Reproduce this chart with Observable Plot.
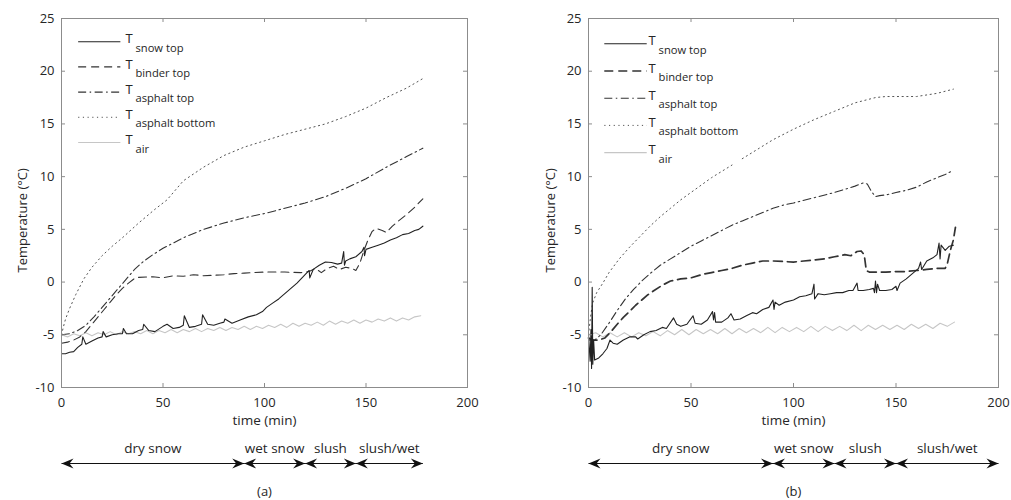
<!DOCTYPE html>
<html><head><meta charset="utf-8">
<script src="https://cdn.jsdelivr.net/npm/d3@7"></script>
<script src="https://cdn.jsdelivr.net/npm/@observablehq/plot@0.6"></script>
<style>
body{margin:0;background:#fff;}
#wrap{position:relative;width:1011px;height:500px;overflow:hidden;}
#wrap > div{position:absolute;top:0;}
</style></head>
<body><div id="wrap"><div id="pa" style="left:0"></div><div id="pb" style="left:505px"></div></div>
<script>
// ---------- data ----------
const xTicks = [0, 50, 100, 150, 200];
const yTicks = [-10, -5, 0, 5, 10, 15, 20, 25];
const legendNames = ["snow top", "binder top", "asphalt top", "asphalt bottom", "air"];
const phaseNames = ["dry snow", "wet snow", "slush", "slush/wet"];
const phasesA = [0, 90, 120, 145, 178];
const phasesB = [0, 90, 120, 150, 200];

// Panel (a)
const snowA_t = [0,2,4,6,8,10,10.5,12,15,18,20,20.5,22,25,28,30,30.5,32,35,38,40,40.5,43,46,50,52,55,58,60,60.5,63,66,69,69.5,72,75,78,80,80.5,84,88,92,96,99,101,104,107,110,113,116,118,120,122,122.3,124,127,130,133,136,138,139,139.4,140,142,145,148,149,149.3,150,153,156,159,162,165,168,171,174,176,178];
const snowA_v = [-6.8,-6.8,-6.65,-6.6,-6.2,-5.9,-5.2,-5.9,-5.6,-5.3,-5.2,-4.7,-5.2,-5.0,-4.9,-4.9,-4.4,-4.9,-4.9,-4.6,-4.5,-4.0,-4.6,-4.7,-4.2,-4.0,-4.4,-4.3,-4.1,-3.2,-4.3,-4.2,-4.0,-3.1,-4.0,-4.1,-3.9,-3.8,-3.5,-3.9,-3.6,-3.3,-3.1,-2.8,-2.4,-2.0,-1.6,-1.1,-0.6,-0.1,0.3,0.7,1.1,0.4,1.2,1.6,1.9,1.85,1.7,1.8,2.9,1.6,2.0,2.2,2.4,2.9,3.3,2.5,3.1,3.3,3.5,3.7,4.0,4.2,4.5,4.6,4.9,5.0,5.3];
const binderA_t = [0,3,6,9,12,15,18,21,24,27,30,33,36,38,45,50,55,60,65,70,75,80,85,90,100,110,118,122,125,128,131,134,137,140,143,145,147,149,151,153,155,158,160,163,166,170,174,178];
const binderA_v = [-5.8,-5.7,-5.5,-5.2,-4.7,-4.0,-3.3,-2.6,-1.9,-1.2,-0.6,-0.1,0.35,0.45,0.5,0.4,0.6,0.55,0.7,0.6,0.65,0.7,0.8,0.85,0.95,0.95,0.9,1.0,1.3,0.9,1.3,1.5,1.2,1.4,1.3,1.1,1.8,3.0,4.0,4.8,5.1,4.9,4.7,5.3,5.8,6.4,7.1,7.9];
const atopA_t = [0,4,8,12,16,20,24,28,32,36,40,45,50,55,60,70,80,90,100,110,120,130,140,150,160,170,178];
const atopA_v = [-5.0,-4.9,-4.6,-4.1,-3.3,-2.4,-1.5,-0.6,0.3,1.2,1.9,2.6,3.2,3.7,4.2,5.0,5.6,6.1,6.5,7.0,7.5,8.1,8.9,9.8,10.9,11.9,12.7];
const abotA_t = [0,1,2,4,7,11,15,20,25,30,38,46,52,60,70,80,90,100,110,120,130,140,150,160,170,178];
const abotA_v = [-5.0,-4.2,-3.5,-2.5,-1.2,0.3,1.4,2.5,3.4,4.2,5.6,6.9,7.8,9.6,10.9,12.0,12.8,13.4,14.0,14.5,15.0,15.7,16.5,17.5,18.4,19.3];
const airA_t = d3.range(0, 178, 3);
const airA_v = [-5.0,-5.2,-4.9,-5.1,-4.8,-5.1,-4.8,-5.0,-4.7,-5.0,-4.7,-4.9,-4.7,-4.9,-4.6,-4.9,-4.6,-4.8,-4.5,-4.8,-4.5,-4.7,-4.4,-4.7,-4.4,-4.6,-4.3,-4.6,-4.3,-4.5,-4.2,-4.5,-4.2,-4.4,-4.1,-4.3,-4.0,-4.3,-3.9,-4.2,-3.9,-4.1,-3.8,-4.1,-3.7,-4.0,-3.7,-3.9,-3.6,-3.9,-3.6,-3.8,-3.5,-3.7,-3.4,-3.7,-3.4,-3.6,-3.3,-3.2];

// Panel (b)
const snowB_t = [0,0.8,1.2,1.5,1.8,2.1,2.5,3,5,7,9,10.5,12,14,17,20,23,24,27,30,33,36,38,41.5,43,45,48,51,52,55,58,60.5,61,61.5,62,65,68,69.5,71,74,77,80,82,85,88,90,90.5,91,93,96,100,103,106,109,110,110.3,112,115,118,121,124,127,129,131,131.5,134,137,139,139.5,140,140.5,141,142,145,148,150,150.5,152,155,158,161,162,162.5,165,168,170,171,171.5,172,174,176,178];
const snowB_v = [-5.0,-7.5,-4.5,-8.2,-0.5,-7.8,-5.5,-7.4,-7.2,-6.8,-6.3,-5.5,-5.8,-5.9,-5.5,-5.2,-5.2,-5.4,-5.0,-4.7,-4.6,-4.3,-4.4,-3.4,-4.0,-4.2,-4.0,-3.2,-3.9,-4.0,-3.6,-2.8,-3.6,-2.9,-3.8,-3.8,-3.4,-3.0,-3.6,-3.5,-3.2,-2.9,-3.0,-2.6,-2.4,-1.7,-2.6,-1.9,-2.2,-1.9,-1.7,-1.4,-1.3,-1.1,-0.2,-1.6,-1.1,-1.2,-1.1,-1.0,-1.0,-0.8,-0.8,-0.1,-0.8,-0.8,-0.7,-0.6,-1.0,0.1,-1.0,-0.2,-0.8,-0.8,-0.7,-0.4,-0.8,-0.1,0.3,0.8,1.3,1.9,1.2,2.0,2.3,2.6,3.7,2.2,3.5,3.0,3.4,3.5];
const binderB_t = [0,2,5,8,11,14,17,20,23,26,29,32,36,40,45,50,55,60,65,70,75,80,85,90,95,100,105,110,115,120,125,128,131,133,134.5,135.5,137,145,150,155,160,165,170,174,175,176.5,178,179];
const binderB_v = [-5.3,-5.5,-5.5,-5.3,-4.7,-4.0,-3.35,-2.8,-2.2,-1.7,-1.2,-0.8,-0.3,0.1,0.3,0.4,0.7,0.9,1.1,1.3,1.6,1.8,2.0,2.0,1.95,1.9,2.0,2.1,2.2,2.4,2.6,2.5,2.9,2.95,2.6,1.1,0.95,0.95,1.0,1.0,1.1,1.2,1.3,1.3,1.7,3.0,4.0,5.2];
const atopB_t = [0,3,6,10,14,18,22,26,30,35,40,45,50,55,60,65,70,75,80,85,90,95,100,110,120,130,134,136,138,140,142,146,150,155,160,165,170,174,178];
const atopB_v = [-5.5,-5.5,-5.0,-3.9,-2.7,-1.6,-0.7,0.1,0.8,1.6,2.2,2.8,3.4,3.9,4.4,4.9,5.4,5.8,6.2,6.6,7.0,7.3,7.5,8.0,8.5,9.1,9.4,9.3,8.6,8.1,8.2,8.3,8.5,8.7,9.0,9.5,9.9,10.2,10.6];
const abotB_t = [0,1,2,4,7,10,15,20,25,30,35,40,45,50,55,60,65,70,73,75,80,90,100,110,120,130,140,145,150,160,170,178];
const abotB_v = [-5.0,-3.3,-2.0,-1.0,-0.1,0.9,2.2,3.3,4.3,5.3,6.2,7.0,7.8,8.5,9.2,9.9,10.5,11.1,null,11.7,12.3,13.5,14.5,15.4,16.2,17.0,17.5,17.6,17.6,17.6,17.9,18.3];
const airB_t = d3.range(0, 179, 3.5);
const airB_v = [-5.0,-4.8,-5.2,-4.8,-5.2,-4.8,-5.2,-4.8,-5.1,-4.7,-5.1,-4.6,-5.0,-4.5,-5.0,-4.5,-4.9,-4.5,-4.9,-4.4,-4.9,-4.4,-4.8,-4.4,-4.8,-4.3,-4.8,-4.3,-4.7,-4.3,-4.7,-4.2,-4.7,-4.2,-4.6,-4.2,-4.6,-4.1,-4.6,-4.1,-4.5,-4.1,-4.5,-4.1,-4.5,-4.0,-4.4,-4.0,-4.4,-3.9,-4.2,-3.8];

// ---------- drawing ----------
const FONT = "'Open Sans', 'DejaVu Sans', sans-serif";
const INK = "#262626";
const rightHead = {draw(c){c.moveTo(0,0);c.lineTo(-12,-5);c.lineTo(-8,0);c.lineTo(-12,5);c.closePath();}};
const leftHead  = {draw(c){c.moveTo(0,0);c.lineTo(12,-5);c.lineTo(8,0);c.lineTo(12,5);c.closePath();}};
function table(t, v){ return t.map((tt,i)=>({t:tt, v:v[i]})); }

function drawPanel(el, o){
  const H = 500, mt = 18, mb = 113;
  const pw = o.width - o.ml - o.mr, ph = H - mt - mb;
  const ymin = -10;
  const st = o.styles;
  const marks = [];
  // data lines, back to front
  for (const k of [4,3,2,1,0]) {
    marks.push(Plot.line(table(o.series[k][0], o.series[k][1]), {x:"t", y:"v", ...st[k], strokeLinejoin:"round"}));
  }
  // frame and inward ticks on all four sides
  marks.push(Plot.frame({stroke:"#8c8c8c", strokeWidth:1}));
  marks.push(Plot.tickY(yTicks, {y:d=>d, insetRight: pw-4, stroke:"#8c8c8c"}));
  marks.push(Plot.tickY(yTicks, {y:d=>d, insetLeft: pw-4, stroke:"#8c8c8c"}));
  marks.push(Plot.tickX(xTicks, {x:d=>d, insetTop: ph-4, stroke:"#8c8c8c"}));
  marks.push(Plot.tickX(xTicks, {x:d=>d, insetBottom: ph-4, stroke:"#8c8c8c"}));
  marks.push(Plot.axisX({ticks:xTicks, tickSize:0, tickPadding:10, tickFormat:d=>String(d), fill:INK, fontSize:13}));
  marks.push(Plot.axisY({ticks:yTicks, tickSize:0, tickPadding:7, tickFormat:d=>String(d), fill:INK, fontSize:13}));
  // axis titles and panel tag
  marks.push(Plot.text(["Temperature (°C)"], {frameAnchor:"left", rotate:-90, dx:o.ylabDx, dy:69.5, text:d=>d, fill:INK, fontSize:13}));
  marks.push(Plot.text(["time (min)"], {frameAnchor:"bottom", dy:37, text:d=>d, fill:INK, fontSize:13.5}));
  marks.push(Plot.text([o.tag], {frameAnchor:"bottom", dy:108, text:d=>d, fill:INK, fontSize:13}));
  // legend inside the frame
  legendNames.forEach((name, i) => {
    const yy = o.legTop - i*o.legStep;
    marks.push(Plot.link([name], {x1:o.legX[0], x2:o.legX[1], y1:yy, y2:yy, ...st[i]}));
    marks.push(Plot.text([name], {x:o.legX[2], y:yy, text:()=> "T", textAnchor:"start", dy:-2.5, fill:INK, fontSize:13}));
    marks.push(Plot.text([name], {x:o.legX[2], y:yy, text:d=>d, textAnchor:"start", dx:10, dy:6.5, fill:INK, fontSize:11.2}));
  });
  // surface-condition phases with double-headed arrows
  const segs = phaseNames.map((n,i)=>({name:n, a:o.phases[i], b:o.phases[i+1]}));
  marks.push(Plot.text(segs, {x:d=>(d.a+d.b)/2, y:ymin, dy:61, text:"name", fill:INK, fontSize:13.5}));
  marks.push(Plot.link(segs, {x1:"a", x2:"b", y1:ymin, y2:ymin, dy:76, stroke:"#111", strokeWidth:1}));
  marks.push(Plot.dot(segs, {x:"a", y:ymin, dy:76, r:4, symbol:leftHead, fill:"#111", stroke:"none"}));
  marks.push(Plot.dot(segs, {x:"b", y:ymin, dy:76, r:4, symbol:rightHead, fill:"#111", stroke:"none"}));
  const svg = Plot.plot({
    width:o.width, height:H, marginTop:mt, marginBottom:mb, marginLeft:o.ml, marginRight:o.mr,
    x:{domain:[0,200], label:null}, y:{domain:[-10,25], label:null},
    style:{fontFamily:FONT, fontSize:"13px", color:INK, background:"#fff", overflow:"visible"},
    marks
  });
  el.append(svg);
  return svg;
}
const stylesA = [
  {stroke:"#222", strokeWidth:1.1},
  {stroke:"#333", strokeWidth:1.1, strokeDasharray:"8,5"},
  {stroke:"#333", strokeWidth:1.1, strokeDasharray:"8,3.5,1.5,3.5"},
  {stroke:"#555", strokeWidth:1, strokeDasharray:"1.2,3.5"},
  {stroke:"#c6c6c6", strokeWidth:1.1}
];
const stylesB = [
  {stroke:"#222", strokeWidth:1.1},
  {stroke:"#333", strokeWidth:1.7, strokeDasharray:"9,5"},
  {stroke:"#333", strokeWidth:1.1, strokeDasharray:"8,3.5,1.5,3.5"},
  {stroke:"#555", strokeWidth:1, strokeDasharray:"1.2,3.5"},
  {stroke:"#c6c6c6", strokeWidth:1.1}
];
drawPanel(document.getElementById("pa"), {
  width:505, ml:61, mr:38, tag:"(a)", ylabDx:-39, phases:phasesA, styles:stylesA,
  legX:[8.2, 29, 31.5], legTop:22.8, legStep:2.39,
  series:[[snowA_t,snowA_v],[binderA_t,binderA_v],[atopA_t,atopA_v],[abotA_t,abotA_v],[airA_t,airA_v]]
});
drawPanel(document.getElementById("pb"), {
  width:506, ml:83, mr:13, tag:"(b)", ylabDx:-38, phases:phasesB, styles:stylesB,
  legX:[7.7, 28.4, 29.3], legTop:22.6, legStep:2.58,
  series:[[snowB_t,snowB_v],[binderB_t,binderB_v],[atopB_t,atopB_v],[abotB_t,abotB_v],[airB_t,airB_v]]
});
</script>
</body></html>
